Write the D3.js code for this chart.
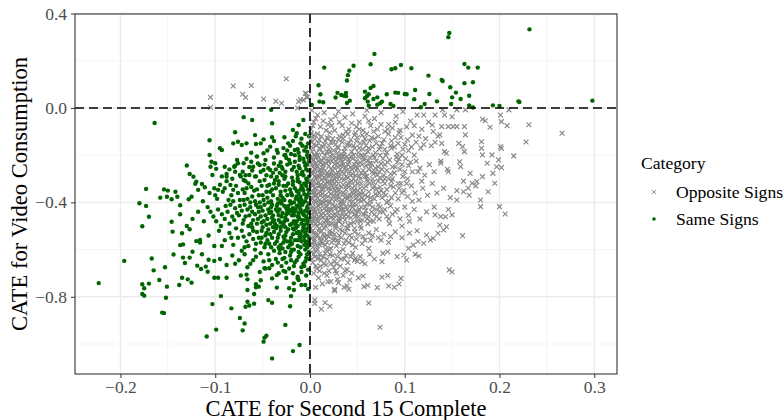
<html>
<head>
<meta charset="utf-8">
<style>
  body { margin: 0; background: #fff; }
  text { font-family: "Liberation Serif", "DejaVu Serif", serif; }
  .domain { display: none; }
</style>
</head>
<body>
<script src="https://cdn.jsdelivr.net/npm/d3@7"></script>
<script>
// axis ticks and legend
var xTicks = [-0.2, -0.1, 0.0, 0.1, 0.2, 0.3];
var yTicks = [0.4, 0.0, -0.4, -0.8];
var xMinor = [-0.15, -0.05, 0.05, 0.15, 0.25];
var yMinor = [0.2, -0.2, -0.6, -1.0];
var categories = ["Opposite Signs", "Same Signs"];

// Same Signs points, [CATE second 15 complete, CATE video consumption]
var sameSignsUpper = [
  [0.2316,0.333],[0.147,0.318],[0.146,0.300],[0.068,0.229],[0.015,0.171],[0.046,0.179],
  [0.0415,0.158],[0.040,0.139],[0.039,0.116],[0.064,0.185],[0.086,0.164],[0.090,0.168],
  [0.096,0.182],[0.107,0.168],[0.125,0.137],[0.139,0.119],[0.140,0.114],[0.163,0.186],
  [0.167,0.171],[0.177,0.171],[0.163,0.105],[0.172,0.109],[0.009,0.096],[0.011,0.058],
  [0.010,0.027],[0.014,0.024],[0.002,0.013],[0.027,0.044],[0.029,0.064],[0.033,0.055],
  [0.036,0.052],[0.038,0.064],[0.038,0.050],[0.039,0.021],[0.042,0.031],[0.058,0.069],
  [0.058,0.041],[0.060,0.050],[0.062,0.058],[0.061,0.027],[0.062,0.010],[0.064,0.085],
  [0.067,0.093],[0.067,0.038],[0.071,0.045],[0.071,0.014],[0.074,0.020],[0.076,0.027],
  [0.081,0.058],[0.085,0.017],[0.088,0.008],[0.090,0.065],[0.093,0.064],[0.100,0.059],
  [0.102,0.058],[0.111,0.076],[0.110,0.037],[0.117,0.003],[0.121,0.017],[0.126,0.059],
  [0.134,0.028],[0.148,0.088],[0.150,0.045],[0.149,0.017],[0.154,0.065],[0.159,0.038],
  [0.168,0.052],[0.168,0.011],[0.172,0.002],[0.193,0.011],[0.200,0.008],[0.220,0.028],
  [0.221,0.025],[0.298,0.031]
];
var sameSignsOuter = [
  [-0.164,-0.064],[-0.106,-0.137],[-0.130,-0.244],[-0.127,-0.280],[-0.123,-0.291],[-0.120,-0.312],
  [-0.121,-0.321],[-0.114,-0.322],[-0.111,-0.336],[-0.118,-0.347],[-0.125,-0.376],[-0.128,-0.387],
  [-0.137,-0.412],[-0.137,-0.450],[-0.146,-0.482],[-0.145,-0.524],[-0.135,-0.531],[-0.130,-0.500],
  [-0.127,-0.514],[-0.116,-0.559],[-0.173,-0.343],[-0.154,-0.345],[-0.150,-0.350],[-0.142,-0.355],
  [-0.140,-0.376],[-0.146,-0.387],[-0.158,-0.380],[-0.151,-0.376],[-0.180,-0.404],[-0.173,-0.415],
  [-0.170,-0.461],[-0.177,-0.501],[-0.106,-0.199],[-0.105,-0.249],[-0.104,-0.228],[-0.100,-0.234],
  [-0.099,-0.258],[-0.103,-0.284],[-0.101,-0.340],[-0.097,-0.347],[-0.090,-0.249],[-0.088,-0.291],
  [-0.080,-0.249],[-0.079,-0.270],[-0.076,-0.234],[-0.074,-0.284],[-0.070,-0.234],[-0.062,-0.228],
  [-0.060,-0.249],[-0.064,-0.284],[-0.081,-0.347],[-0.084,-0.326],[-0.070,-0.305],[-0.067,-0.340],
  [-0.095,-0.171],[-0.093,-0.178],[-0.079,-0.103],[-0.081,-0.150],[-0.076,-0.143],[-0.072,-0.157],
  [-0.067,-0.150],[-0.057,-0.153],[-0.061,-0.051],[-0.070,-0.039],[-0.049,-0.133],[-0.040,-0.124],
  [-0.040,-0.065],[-0.041,-0.008],[-0.027,-0.124],[-0.018,-0.093],[-0.012,-0.072],[-0.014,-0.107],
  [-0.007,-0.051],[-0.023,-0.150],[-0.016,-0.178],[-0.010,-0.150],[-0.042,-0.164],[-0.049,-0.192],
  [-0.035,-0.178],[-0.026,-0.199],[-0.030,-0.249],[-0.042,-0.263],[-0.021,-0.234],[-0.011,-0.206],
  [-0.003,-0.185],[-0.056,-0.206],[-0.053,-0.242],[-0.049,-0.263],
  [-0.223,-0.742],[-0.196,-0.648],[-0.167,-0.638],[-0.165,-0.688],[-0.153,-0.675],[-0.159,-0.729],
  [-0.170,-0.744],[-0.177,-0.747],[-0.175,-0.764],[-0.177,-0.788],[-0.175,-0.795],[-0.151,-0.757],
  [-0.152,-0.804],[-0.156,-0.867],[-0.154,-0.869],[-0.144,-0.621],[-0.137,-0.581],[-0.132,-0.657],
  [-0.134,-0.634],[-0.129,-0.726],[-0.125,-0.740],[-0.138,-0.750],[-0.135,-0.719],[-0.134,-0.578],
  [-0.127,-0.634],[-0.124,-0.609],[-0.120,-0.564],[-0.114,-0.620],[-0.119,-0.668],[-0.110,-0.672],
  [-0.115,-0.682],[-0.108,-0.694],[-0.101,-0.648],[-0.107,-0.643],[-0.103,-0.831],[-0.094,-0.797],
  [-0.099,-0.939],[-0.109,-0.968],[-0.083,-0.849],[-0.074,-0.890],[-0.071,-0.942],[-0.069,-0.913],
  [-0.066,-0.821],[-0.068,-0.842],[-0.064,-0.837],[-0.059,-0.829],[-0.066,-0.771],[-0.059,-0.788],
  [-0.057,-0.760],[-0.054,-0.757],[-0.044,-0.814],[-0.040,-0.825],[-0.048,-0.973],[-0.046,-0.965],
  [-0.049,-0.990],[-0.040,-1.061],[-0.026,-0.919],[-0.021,-0.840],[-0.018,-1.030],[-0.011,-1.004],
  [-0.020,-0.797],[-0.017,-0.771],[-0.013,-0.722],[-0.009,-0.750],[-0.005,-0.750],[-0.002,-0.767],
  [-0.097,-0.719],[-0.101,-0.719],[-0.088,-0.719],[-0.073,-0.710],[-0.066,-0.726],[-0.067,-0.706],
  [-0.057,-0.747],[-0.052,-0.730],[-0.035,-0.761],[-0.022,-0.764],[-0.017,-0.743],[-0.012,-0.729],
  [-0.040,-0.722],[-0.026,-0.694],[-0.035,-0.708],[-0.043,-0.679],[-0.048,-0.679]
];
var sameSignsCore = [
  [-0.005,-0.11],[-0.009,-0.13],[-0.002,-0.15],[-0.015,-0.12],[-0.021,-0.16],[-0.006,-0.18],[-0.012,-0.19],
  [-0.003,-0.2],[-0.028,-0.17],[-0.034,-0.19],[-0.045,-0.18],[-0.052,-0.15],[-0.062,-0.19],[-0.018,-0.14],
  [-0.001,-0.12],[-0.008,-0.16],[-0.038,-0.14],[-0.058,-0.115],[-0.027,-0.2],
  [-0.002,-0.21],[-0.006,-0.23],[-0.011,-0.22],[-0.017,-0.25],[-0.004,-0.26],[-0.009,-0.28],[-0.014,-0.27],
  [-0.022,-0.22],[-0.026,-0.27],[-0.031,-0.23],[-0.036,-0.26],[-0.041,-0.29],[-0.047,-0.22],[-0.052,-0.27],
  [-0.058,-0.29],[-0.064,-0.25],[-0.071,-0.27],[-0.077,-0.22],[-0.085,-0.26],[-0.093,-0.29],[-0.001,-0.29],
  [-0.019,-0.295],[-0.029,-0.285],[-0.038,-0.21],[-0.044,-0.255],[-0.055,-0.235],[-0.067,-0.215],[-0.073,-0.29],
  [-0.082,-0.3],[-0.003,-0.24],[-0.012,-0.245],[-0.024,-0.24],
  [-0.001,-0.31],[-0.004,-0.33],[-0.007,-0.35],[-0.003,-0.37],[-0.009,-0.39],[-0.013,-0.31],[-0.016,-0.34],
  [-0.019,-0.37],[-0.012,-0.36],[-0.023,-0.32],[-0.026,-0.35],[-0.029,-0.38],[-0.021,-0.395],[-0.033,-0.31],
  [-0.036,-0.34],[-0.039,-0.37],[-0.043,-0.325],[-0.046,-0.355],[-0.049,-0.39],[-0.053,-0.31],[-0.056,-0.345],
  [-0.061,-0.375],[-0.065,-0.32],[-0.069,-0.36],[-0.074,-0.39],[-0.078,-0.33],[-0.083,-0.37],[-0.088,-0.31],
  [-0.092,-0.355],[-0.098,-0.385],[-0.106,-0.36],[-0.113,-0.395],[-0.006,-0.32],[-0.002,-0.345],[-0.01,-0.375],
  [-0.005,-0.395],[-0.015,-0.385],[-0.031,-0.355],[-0.041,-0.395],[-0.058,-0.395],[-0.071,-0.345],[-0.086,-0.39],
  [-0.018,-0.325],[-0.027,-0.3],[-0.048,-0.305],[-0.062,-0.335],[-0.095,-0.325],
  [-0.001,-0.405],[-0.003,-0.42],[-0.002,-0.44],[-0.004,-0.46],[-0.001,-0.48],[-0.006,-0.495],[-0.008,-0.41],
  [-0.01,-0.43],[-0.007,-0.45],[-0.011,-0.47],[-0.009,-0.49],[-0.014,-0.415],[-0.016,-0.44],[-0.013,-0.46],
  [-0.017,-0.48],[-0.02,-0.405],[-0.022,-0.43],[-0.019,-0.455],[-0.024,-0.475],[-0.021,-0.495],[-0.027,-0.415],
  [-0.029,-0.445],[-0.026,-0.465],[-0.031,-0.485],[-0.034,-0.405],[-0.036,-0.43],[-0.033,-0.455],[-0.038,-0.475],
  [-0.035,-0.5],[-0.041,-0.42],[-0.043,-0.445],[-0.045,-0.47],[-0.042,-0.49],[-0.048,-0.41],[-0.05,-0.435],
  [-0.052,-0.46],[-0.049,-0.48],[-0.055,-0.42],[-0.058,-0.45],[-0.06,-0.475],[-0.063,-0.4],[-0.066,-0.43],
  [-0.068,-0.46],[-0.071,-0.49],[-0.074,-0.415],[-0.077,-0.445],[-0.08,-0.475],[-0.084,-0.41],[-0.087,-0.44],
  [-0.09,-0.47],[-0.094,-0.5],[-0.097,-0.43],[-0.102,-0.46],[-0.108,-0.42],[-0.112,-0.48],[-0.118,-0.44],
  [-0.124,-0.47],[-0.005,-0.435],[-0.012,-0.445],[-0.018,-0.425],[-0.025,-0.45],[-0.032,-0.43],[-0.039,-0.455],
  [-0.046,-0.495],[-0.056,-0.49],[-0.064,-0.455],[-0.072,-0.435],[-0.085,-0.49],[-0.002,-0.47],[-0.015,-0.495],
  [-0.028,-0.495],[-0.053,-0.4],
  [-0.002,-0.51],[-0.005,-0.53],[-0.001,-0.55],[-0.004,-0.57],[-0.003,-0.59],[-0.008,-0.52],[-0.011,-0.545],
  [-0.009,-0.565],[-0.013,-0.585],[-0.015,-0.51],[-0.018,-0.535],[-0.016,-0.56],[-0.021,-0.58],[-0.023,-0.515],
  [-0.026,-0.54],[-0.024,-0.565],[-0.029,-0.595],[-0.031,-0.52],[-0.034,-0.55],[-0.037,-0.575],[-0.039,-0.505],
  [-0.042,-0.535],[-0.045,-0.56],[-0.048,-0.59],[-0.051,-0.52],[-0.054,-0.55],[-0.057,-0.575],[-0.061,-0.505],
  [-0.064,-0.535],[-0.067,-0.565],[-0.072,-0.52],[-0.076,-0.55],[-0.081,-0.58],[-0.085,-0.53],[-0.09,-0.56],
  [-0.096,-0.52],[-0.101,-0.585],[-0.107,-0.54],[-0.116,-0.57],[-0.006,-0.58],[-0.019,-0.6],[-0.033,-0.59],
  [-0.044,-0.515],[-0.058,-0.6],[-0.069,-0.59],[-0.012,-0.525],[-0.028,-0.57],
  [-0.001,-0.61],[-0.004,-0.635],[-0.007,-0.66],[-0.002,-0.685],[-0.01,-0.62],[-0.014,-0.645],[-0.017,-0.67],
  [-0.021,-0.625],[-0.025,-0.655],[-0.028,-0.69],[-0.032,-0.615],[-0.036,-0.64],[-0.04,-0.665],[-0.044,-0.62],
  [-0.049,-0.65],[-0.053,-0.695],[-0.057,-0.63],[-0.063,-0.66],[-0.069,-0.62],[-0.075,-0.645],[-0.082,-0.625],
  [-0.088,-0.665],[-0.095,-0.64],[-0.018,-0.7],[-0.009,-0.695],[-0.03,-0.67]
];
var sameSignsDense = [
  [-0.004,-0.165],[-0.013,-0.175],[-0.02,-0.195],[-0.007,-0.215],[-0.016,-0.228],[-0.025,-0.212],[-0.033,-0.245],
  [-0.008,-0.27],[-0.019,-0.262],[-0.029,-0.258],[-0.039,-0.275],[-0.048,-0.24],[-0.061,-0.265],[-0.068,-0.285],
  [-0.035,-0.292],[-0.046,-0.285],[-0.013,-0.3],[-0.004,-0.3],[-0.056,-0.205],[-0.079,-0.245],[-0.088,-0.28],
  [-0.003,-0.315],[-0.009,-0.33],[-0.014,-0.352],[-0.006,-0.365],[-0.012,-0.39],[-0.021,-0.345],[-0.024,-0.37],
  [-0.028,-0.33],[-0.034,-0.385],[-0.038,-0.32],[-0.042,-0.355],[-0.051,-0.33],[-0.054,-0.37],[-0.059,-0.35],
  [-0.066,-0.385],[-0.076,-0.36],[-0.081,-0.395],[-0.09,-0.34],[-0.1,-0.37],[-0.011,-0.315],[-0.031,-0.395],
  [-0.045,-0.38],
  [-0.002,-0.415],[-0.004,-0.435],[-0.006,-0.455],[-0.003,-0.49],[-0.008,-0.475],[-0.011,-0.405],[-0.012,-0.46],
  [-0.015,-0.43],[-0.014,-0.48],[-0.017,-0.455],[-0.019,-0.49],[-0.023,-0.415],[-0.023,-0.445],[-0.027,-0.48],
  [-0.03,-0.405],[-0.03,-0.46],[-0.034,-0.44],[-0.037,-0.49],[-0.04,-0.41],[-0.04,-0.465],[-0.044,-0.43],
  [-0.047,-0.455],[-0.051,-0.485],[-0.054,-0.44],[-0.057,-0.41],[-0.061,-0.44],[-0.062,-0.49],[-0.069,-0.41],
  [-0.07,-0.475],[-0.075,-0.455],[-0.079,-0.425],[-0.082,-0.46],[-0.089,-0.415],[-0.093,-0.45],[-0.099,-0.48],
  [-0.105,-0.44],[-0.001,-0.445],[-0.009,-0.44],[-0.025,-0.425],
  [-0.001,-0.52],[-0.003,-0.54],[-0.006,-0.56],[-0.002,-0.58],[-0.007,-0.505],[-0.01,-0.535],[-0.013,-0.56],
  [-0.014,-0.53],[-0.017,-0.515],[-0.02,-0.55],[-0.019,-0.575],[-0.025,-0.525],[-0.027,-0.555],[-0.031,-0.58],
  [-0.033,-0.535],[-0.036,-0.51],[-0.04,-0.55],[-0.043,-0.575],[-0.047,-0.54],[-0.05,-0.505],[-0.052,-0.57],
  [-0.056,-0.525],[-0.06,-0.555],[-0.065,-0.585],[-0.07,-0.545],[-0.078,-0.51],[-0.083,-0.55],[-0.093,-0.585],
  [-0.01,-0.59],[-0.023,-0.59],
  [-0.003,-0.62],[-0.005,-0.65],[-0.012,-0.63],[-0.009,-0.675],[-0.016,-0.655],[-0.02,-0.61],[-0.022,-0.68],
  [-0.027,-0.635],[-0.034,-0.655],[-0.038,-0.605],[-0.043,-0.645],[-0.047,-0.68],[-0.052,-0.615],[-0.06,-0.645],
  [-0.066,-0.675],[-0.072,-0.605],[-0.079,-0.66],[-0.004,-0.71],[-0.013,-0.715],[-0.025,-0.72],[-0.033,-0.7]
];
var sameSignsEdge = [
  [-0.001,-0.225],[-0.005,-0.245],[-0.002,-0.265],[-0.007,-0.285],[-0.003,-0.305],[-0.008,-0.34],[-0.001,-0.36],
  [-0.004,-0.38],[-0.007,-0.4],[-0.002,-0.425],[-0.005,-0.475],[-0.001,-0.5],[-0.004,-0.515],[-0.006,-0.545],
  [-0.002,-0.565],[-0.005,-0.6],[-0.001,-0.64],[-0.006,-0.67],[-0.011,-0.255],[-0.013,-0.285],[-0.01,-0.345],
  [-0.014,-0.375],[-0.011,-0.42],[-0.013,-0.5],[-0.01,-0.55],[-0.012,-0.61],[-0.016,-0.2],[-0.018,-0.31],
  [-0.02,-0.36],[-0.017,-0.4],[-0.019,-0.44],[-0.018,-0.51],[-0.021,-0.565],[-0.017,-0.6],[-0.02,-0.645],
  [-0.024,-0.18],[-0.026,-0.29],[-0.025,-0.33],[-0.027,-0.39],[-0.024,-0.435],[-0.026,-0.505],[-0.028,-0.545],
  [-0.026,-0.61],[-0.029,-0.64],[-0.032,-0.275],[-0.033,-0.325],[-0.031,-0.37],[-0.035,-0.415],[-0.033,-0.475],
  [-0.031,-0.505],[-0.035,-0.565],[-0.032,-0.6],[-0.038,-0.235],[-0.037,-0.305],[-0.04,-0.345],[-0.041,-0.44],
  [-0.039,-0.48],[-0.038,-0.525],[-0.041,-0.59],[-0.045,-0.33],[-0.044,-0.4],[-0.046,-0.53],[-0.047,-0.575],
  [-0.05,-0.37],[-0.052,-0.42],[-0.051,-0.55],[-0.055,-0.47],[-0.057,-0.29],[-0.06,-0.52],[-0.063,-0.42],
  [-0.065,-0.5],[-0.068,-0.31],[-0.07,-0.39]
];

// Opposite Signs points
var oppositeOuter = [
  [-0.105,0.045],[-0.105,0.003],[-0.081,0.093],[-0.071,0.058],[-0.068,0.044],[-0.062,0.095],[-0.049,0.038],
  [-0.036,0.028],[-0.030,0.020],[-0.025,0.124],[-0.012,0.027],[-0.010,0.035],[-0.004,0.061],[-0.003,0.047],
  [-0.013,0.000],[-0.005,0.062],[-0.003,0.044],[-0.007,0.034],
  [0.266,-0.107],[0.231,-0.071],[0.228,-0.144],[0.215,-0.203],[0.210,-0.008],[0.201,-0.030],[0.202,-0.058],
  [0.208,-0.075],[0.185,-0.054],[0.190,-0.082],[0.182,-0.048],[0.181,-0.143],[0.181,-0.171],[0.182,-0.199],
  [0.192,-0.199],[0.201,-0.164],[0.202,-0.171],[0.199,-0.220],[0.197,-0.249],[0.202,-0.253],[0.193,-0.277],
  [0.195,-0.319],[0.188,-0.355],[0.180,-0.390],[0.180,-0.418],[0.200,-0.418],[0.187,-0.234],[0.182,-0.291],
  [0.176,-0.312],[0.171,-0.319],[0.167,-0.340],[0.162,-0.355],[0.155,-0.390],[0.169,-0.277],[0.163,-0.185],
  [0.161,-0.164],[0.157,-0.150],[0.164,-0.114],[0.163,-0.079],[0.155,-0.079],[0.151,-0.079],[0.144,-0.192],
  [0.138,-0.234],[0.146,-0.270],[0.158,-0.228],[0.159,-0.249],[0.146,-0.079],[0.139,-0.079],[0.137,-0.114],
  [0.139,-0.150],[0.130,-0.100],[0.129,-0.072],[0.120,-0.030],[0.132,-0.030],[0.142,-0.030],[0.150,-0.037],
  [0.140,-0.008],[0.155,-0.008],[0.164,-0.008],
  [0.206,-0.449],[0.161,-0.541],[0.147,-0.686],[0.150,-0.695],[0.074,-0.929],[0.062,-0.826],[0.005,-0.814],
  [0.005,-0.828],[0.012,-0.853],[0.016,-0.825],[0.021,-0.840],[0.026,-0.768],[0.026,-0.774],[0.036,-0.760],
  [0.041,-0.768],[0.057,-0.757],[0.061,-0.751],[0.071,-0.761],[0.083,-0.754],[0.076,-0.717],[0.082,-0.710],
  [0.089,-0.760],[0.094,-0.746],[0.096,-0.722],[0.051,-0.720],[0.056,-0.712],[0.029,-0.726],[0.019,-0.736],
  [0.039,-0.753],[0.042,-0.729],[0.055,-0.651],[0.048,-0.637],[0.076,-0.651],[0.077,-0.616],[0.082,-0.609],
  [0.092,-0.630],[0.099,-0.623],[0.102,-0.644],[0.111,-0.620],[0.115,-0.627],[0.104,-0.595],[0.109,-0.581],
  [0.114,-0.566],[0.120,-0.573],[0.127,-0.559],[0.135,-0.531],[0.141,-0.517],[0.144,-0.503],[0.137,-0.496],
  [0.132,-0.453],[0.143,-0.461],[0.150,-0.453],[0.123,-0.538],[0.130,-0.552]
];
var oppositeCore = [
  [0.002,-0.01],[0.008,-0.03],[0.015,-0.02],[0.022,-0.05],[0.03,-0.015],[0.037,-0.04],[0.045,-0.025],[0.052,-0.06],
  [0.06,-0.01],[0.068,-0.045],[0.075,-0.02],[0.083,-0.07],[0.091,-0.035],[0.098,-0.015],[0.106,-0.055],[0.113,-0.03],
  [0.004,-0.06],[0.011,-0.08],[0.019,-0.07],[0.026,-0.095],[0.034,-0.075],[0.041,-0.09],[0.049,-0.08],[0.056,-0.095],
  [0.064,-0.075],[0.071,-0.09],[0.079,-0.1],[0.087,-0.085],[0.095,-0.095],[0.102,-0.08],[0.118,-0.09],[0.125,-0.06],
  [0.001,-0.09],[0.006,-0.045],[0.027,-0.035],[0.058,-0.035],
  [0.001,-0.11],[0.005,-0.13],[0.009,-0.15],[0.003,-0.17],[0.007,-0.19],[0.012,-0.12],[0.016,-0.14],[0.014,-0.165],
  [0.018,-0.185],[0.021,-0.105],[0.024,-0.13],[0.027,-0.155],[0.025,-0.18],[0.031,-0.12],[0.034,-0.145],[0.037,-0.17],
  [0.033,-0.195],[0.04,-0.11],[0.043,-0.135],[0.046,-0.16],[0.044,-0.185],[0.05,-0.125],[0.053,-0.15],[0.056,-0.175],
  [0.055,-0.2],[0.06,-0.11],[0.063,-0.14],[0.066,-0.165],[0.069,-0.19],[0.072,-0.12],[0.076,-0.15],[0.079,-0.175],
  [0.083,-0.11],[0.086,-0.14],[0.089,-0.165],[0.092,-0.195],[0.096,-0.125],[0.1,-0.155],[0.104,-0.18],[0.108,-0.115],
  [0.112,-0.145],[0.117,-0.17],[0.122,-0.13],[0.128,-0.16],[0.135,-0.12],[0.142,-0.185],[0.002,-0.145],[0.011,-0.175],
  [0.02,-0.16],[0.029,-0.19],[0.039,-0.155],[0.048,-0.105],[0.058,-0.13],[0.074,-0.2],[0.094,-0.105],[0.008,-0.2],
  [0.001,-0.205],[0.004,-0.22],[0.002,-0.24],[0.005,-0.26],[0.003,-0.28],[0.007,-0.295],[0.009,-0.21],[0.011,-0.23],
  [0.008,-0.25],[0.012,-0.27],[0.01,-0.29],[0.015,-0.215],[0.017,-0.235],[0.014,-0.255],[0.018,-0.275],[0.016,-0.3],
  [0.021,-0.205],[0.023,-0.225],[0.02,-0.245],[0.024,-0.265],[0.022,-0.285],[0.027,-0.21],[0.029,-0.235],[0.026,-0.255],
  [0.03,-0.275],[0.028,-0.295],[0.033,-0.22],[0.035,-0.24],[0.032,-0.26],[0.036,-0.28],[0.039,-0.205],[0.041,-0.23],
  [0.038,-0.25],[0.042,-0.27],[0.04,-0.295],[0.045,-0.215],[0.047,-0.24],[0.044,-0.26],[0.048,-0.285],[0.051,-0.205],
  [0.053,-0.23],[0.05,-0.255],[0.054,-0.275],[0.057,-0.22],[0.059,-0.245],[0.056,-0.265],[0.06,-0.29],[0.063,-0.21],
  [0.065,-0.235],[0.062,-0.26],[0.067,-0.28],[0.07,-0.225],[0.072,-0.25],[0.069,-0.27],[0.074,-0.295],[0.077,-0.215],
  [0.079,-0.24],[0.081,-0.265],[0.078,-0.285],[0.084,-0.22],[0.087,-0.25],[0.089,-0.275],[0.092,-0.23],[0.095,-0.26],
  [0.098,-0.29],[0.101,-0.215],[0.104,-0.245],[0.108,-0.27],[0.112,-0.225],[0.116,-0.255],[0.121,-0.285],[0.126,-0.24],
  [0.131,-0.27],[0.138,-0.225],[0.145,-0.26],[0.006,-0.235],[0.013,-0.285],[0.025,-0.3],[0.034,-0.205],[0.046,-0.3],
  [0.058,-0.2],[0.066,-0.3],[0.083,-0.3],[0.097,-0.2],
  [0.001,-0.31],[0.003,-0.33],[0.002,-0.35],[0.004,-0.37],[0.001,-0.39],[0.007,-0.32],[0.006,-0.34],[0.009,-0.36],
  [0.008,-0.38],[0.006,-0.4],[0.012,-0.305],[0.011,-0.325],[0.014,-0.345],[0.013,-0.365],[0.015,-0.385],[0.018,-0.315],
  [0.017,-0.335],[0.02,-0.355],[0.019,-0.375],[0.021,-0.395],[0.024,-0.31],[0.023,-0.33],[0.026,-0.35],[0.025,-0.37],
  [0.027,-0.39],[0.03,-0.32],[0.029,-0.34],[0.032,-0.36],[0.031,-0.38],[0.033,-0.4],[0.036,-0.305],[0.035,-0.325],
  [0.038,-0.345],[0.037,-0.365],[0.039,-0.385],[0.042,-0.315],[0.041,-0.335],[0.044,-0.355],[0.043,-0.375],[0.045,-0.395],
  [0.048,-0.31],[0.047,-0.33],[0.05,-0.35],[0.049,-0.37],[0.051,-0.39],[0.054,-0.32],[0.053,-0.34],[0.056,-0.36],
  [0.055,-0.38],[0.06,-0.305],[0.059,-0.33],[0.062,-0.355],[0.061,-0.375],[0.064,-0.395],[0.067,-0.315],[0.066,-0.34],
  [0.069,-0.365],[0.068,-0.385],[0.072,-0.31],[0.074,-0.335],[0.073,-0.36],[0.076,-0.38],[0.079,-0.32],[0.081,-0.345],
  [0.08,-0.37],[0.083,-0.395],[0.086,-0.31],[0.088,-0.335],[0.09,-0.36],[0.093,-0.385],[0.096,-0.32],[0.099,-0.35],
  [0.103,-0.375],[0.107,-0.33],[0.111,-0.36],[0.115,-0.39],[0.119,-0.34],[0.124,-0.37],[0.129,-0.32],[0.134,-0.36],
  [0.141,-0.34],[0.148,-0.38],[0.155,-0.35],[0.162,-0.31],[0.168,-0.37],[0.175,-0.33],
  [0.001,-0.41],[0.003,-0.43],[0.002,-0.45],[0.004,-0.47],[0.002,-0.49],[0.007,-0.42],[0.006,-0.44],[0.009,-0.46],
  [0.008,-0.48],[0.007,-0.5],[0.012,-0.405],[0.011,-0.425],[0.014,-0.445],[0.013,-0.465],[0.015,-0.485],[0.018,-0.415],
  [0.017,-0.435],[0.02,-0.455],[0.019,-0.475],[0.021,-0.495],[0.024,-0.41],[0.023,-0.43],[0.026,-0.45],[0.025,-0.47],
  [0.027,-0.49],[0.03,-0.42],[0.029,-0.44],[0.032,-0.46],[0.031,-0.48],[0.036,-0.405],[0.035,-0.43],[0.038,-0.45],
  [0.037,-0.475],[0.04,-0.495],[0.042,-0.415],[0.044,-0.44],[0.043,-0.465],[0.046,-0.485],[0.049,-0.41],[0.048,-0.435],
  [0.051,-0.46],[0.05,-0.48],[0.054,-0.42],[0.056,-0.45],[0.055,-0.475],[0.06,-0.405],[0.059,-0.435],[0.062,-0.46],
  [0.061,-0.49],[0.066,-0.42],[0.068,-0.45],[0.067,-0.48],[0.072,-0.41],[0.074,-0.44],[0.073,-0.47],[0.079,-0.43],
  [0.081,-0.46],[0.085,-0.415],[0.087,-0.45],[0.092,-0.43],[0.095,-0.47],[0.1,-0.42],[0.104,-0.455],[0.11,-0.43],
  [0.116,-0.47],[0.123,-0.44],[0.131,-0.42],[0.138,-0.46],[0.146,-0.43],[0.084,-0.49],[0.097,-0.5],
  [0.001,-0.51],[0.004,-0.53],[0.002,-0.55],[0.005,-0.57],[0.003,-0.59],[0.009,-0.52],[0.008,-0.54],[0.011,-0.56],
  [0.01,-0.58],[0.015,-0.51],[0.014,-0.535],[0.017,-0.555],[0.016,-0.58],[0.021,-0.52],[0.02,-0.545],[0.023,-0.57],
  [0.022,-0.595],[0.027,-0.51],[0.026,-0.535],[0.029,-0.56],[0.028,-0.585],[0.034,-0.52],[0.033,-0.55],[0.036,-0.575],
  [0.04,-0.51],[0.042,-0.54],[0.041,-0.57],[0.047,-0.525],[0.049,-0.555],[0.048,-0.59],[0.054,-0.51],[0.056,-0.545],
  [0.055,-0.575],[0.062,-0.53],[0.064,-0.56],[0.07,-0.515],[0.072,-0.55],[0.078,-0.535],[0.083,-0.57],[0.09,-0.525],
  [0.097,-0.55],[0.105,-0.53],[0.113,-0.52],[0.062,-0.595],[0.035,-0.6],[0.008,-0.6],
  [0.002,-0.61],[0.005,-0.63],[0.003,-0.655],[0.007,-0.68],[0.004,-0.7],[0.01,-0.62],[0.012,-0.645],[0.011,-0.67],
  [0.016,-0.615],[0.018,-0.64],[0.017,-0.665],[0.02,-0.69],[0.024,-0.625],[0.026,-0.65],[0.025,-0.675],[0.031,-0.61],
  [0.033,-0.64],[0.032,-0.67],[0.038,-0.625],[0.04,-0.655],[0.039,-0.685],[0.045,-0.615],[0.047,-0.645],[0.053,-0.63],
  [0.058,-0.66],[0.063,-0.62],[0.068,-0.64],[0.015,-0.7],[0.028,-0.7],[0.009,-0.72],[0.022,-0.735],[0.035,-0.71],
  [0.044,-0.7],[0.013,-0.745],[0.006,-0.76],[0.03,-0.74]
];
var oppositeDense = [
  [0.003,-0.075],[0.014,-0.055],[0.017,-0.095],[0.023,-0.075],[0.031,-0.06],[0.038,-0.1],[0.044,-0.065],[0.052,-0.09],
  [0.062,-0.055],[0.067,-0.1],[0.075,-0.07],[0.082,-0.09],[0.09,-0.06],[0.11,-0.075],[0.004,-0.115],[0.007,-0.16],
  [0.01,-0.135],[0.013,-0.19],[0.018,-0.125],[0.02,-0.175],[0.022,-0.145],[0.029,-0.165],[0.03,-0.135],[0.035,-0.115],
  [0.036,-0.185],[0.041,-0.15],[0.047,-0.17],[0.049,-0.14],[0.051,-0.19],[0.055,-0.115],[0.059,-0.16],[0.061,-0.185],
  [0.065,-0.125],[0.07,-0.15],[0.073,-0.175],[0.078,-0.135],[0.081,-0.19],[0.085,-0.16],[0.09,-0.125],[0.093,-0.15],
  [0.098,-0.175],[0.103,-0.135],[0.107,-0.165],[0.115,-0.12],[0.12,-0.155],[0.132,-0.145],
  [0.002,-0.215],[0.003,-0.25],[0.002,-0.27],[0.005,-0.29],[0.006,-0.21],[0.007,-0.245],[0.009,-0.265],[0.008,-0.285],
  [0.012,-0.22],[0.013,-0.24],[0.011,-0.26],[0.015,-0.295],[0.019,-0.225],[0.016,-0.265],[0.02,-0.29],[0.025,-0.215],
  [0.026,-0.24],[0.022,-0.275],[0.027,-0.28],[0.031,-0.205],[0.03,-0.25],[0.031,-0.29],[0.034,-0.23],[0.034,-0.27],
  [0.037,-0.215],[0.038,-0.265],[0.04,-0.24],[0.043,-0.205],[0.043,-0.25],[0.045,-0.28],[0.049,-0.225],[0.049,-0.265],
  [0.052,-0.29],[0.055,-0.24],[0.058,-0.275],[0.061,-0.225],[0.064,-0.25],[0.066,-0.27],[0.068,-0.21],[0.071,-0.285],
  [0.075,-0.235],[0.076,-0.26],[0.082,-0.23],[0.085,-0.28],[0.09,-0.25],[0.094,-0.215],[0.1,-0.27],[0.106,-0.23],
  [0.114,-0.27],[0.002,-0.32],[0.005,-0.34],[0.004,-0.31],[0.01,-0.33],[0.012,-0.345],[0.016,-0.32],[0.019,-0.34],
  [0.022,-0.32],[0.027,-0.335],[0.028,-0.31],[0.033,-0.335],[0.04,-0.32],[0.045,-0.34],[0.051,-0.32],[0.057,-0.34],
  [0.063,-0.32],[0.07,-0.345],[0.077,-0.31],[0.085,-0.33],[0.094,-0.34],[0.102,-0.32],
  [0.003,-0.36],[0.002,-0.38],[0.005,-0.395],[0.007,-0.37],[0.01,-0.39],[0.011,-0.355],[0.016,-0.37],[0.017,-0.395],
  [0.022,-0.365],[0.023,-0.385],[0.028,-0.355],[0.029,-0.375],[0.034,-0.39],[0.035,-0.36],[0.04,-0.375],[0.042,-0.395],
  [0.046,-0.365],[0.048,-0.385],[0.053,-0.36],[0.054,-0.395],[0.058,-0.37],[0.064,-0.38],[0.071,-0.37],[0.078,-0.36],
  [0.086,-0.38],[0.097,-0.36],[0.108,-0.395],[0.003,-0.42],[0.004,-0.44],[0.005,-0.46],[0.003,-0.48],[0.009,-0.415],
  [0.01,-0.44],[0.008,-0.47],[0.011,-0.49],[0.015,-0.425],[0.016,-0.455],[0.017,-0.475],[0.02,-0.44],[0.022,-0.465],
  [0.023,-0.49],[0.027,-0.425],[0.028,-0.455],[0.03,-0.48],[0.033,-0.415],[0.034,-0.445],[0.034,-0.495],[0.039,-0.43],
  [0.04,-0.46],[0.045,-0.42],[0.047,-0.45],[0.052,-0.43],[0.053,-0.48],[0.058,-0.42],[0.06,-0.47],[0.065,-0.44],
  [0.07,-0.46],[0.077,-0.44],[0.083,-0.47],[0.09,-0.44],[0.105,-0.48],
  [0.003,-0.52],[0.006,-0.54],[0.004,-0.565],[0.007,-0.585],[0.012,-0.52],[0.011,-0.55],[0.013,-0.575],[0.018,-0.54],
  [0.018,-0.57],[0.024,-0.53],[0.025,-0.56],[0.031,-0.54],[0.03,-0.57],[0.037,-0.53],[0.038,-0.56],[0.044,-0.55],
  [0.045,-0.58],[0.051,-0.535],[0.058,-0.56],[0.066,-0.54],[0.075,-0.56],[0.085,-0.545],[0.004,-0.62],[0.008,-0.64],
  [0.006,-0.67],[0.014,-0.63],[0.015,-0.66],[0.021,-0.62],[0.022,-0.66],[0.029,-0.63],[0.028,-0.66],[0.036,-0.64],
  [0.043,-0.63],[0.05,-0.65],[0.01,-0.69],[0.018,-0.71],[0.027,-0.69],[0.037,-0.69]
];
var oppositeEdge = [
  [0.001,-0.135],[0.004,-0.155],[0.002,-0.185],[0.005,-0.2],[0.001,-0.23],[0.004,-0.27],[0.006,-0.3],[0.001,-0.325],
  [0.005,-0.355],[0.003,-0.385],[0.001,-0.425],[0.005,-0.445],[0.002,-0.465],[0.006,-0.49],[0.002,-0.525],[0.005,-0.555],
  [0.002,-0.575],[0.006,-0.605],[0.002,-0.64],[0.008,-0.11],[0.01,-0.17],[0.009,-0.225],[0.011,-0.28],[0.009,-0.315],
  [0.011,-0.37],[0.01,-0.405],[0.012,-0.455],[0.01,-0.51],[0.012,-0.565],[0.009,-0.635],[0.015,-0.155],[0.016,-0.2],
  [0.014,-0.24],[0.017,-0.285],[0.015,-0.33],[0.014,-0.4],[0.017,-0.42],[0.016,-0.5],[0.015,-0.545],[0.017,-0.6],
  [0.019,-0.13],[0.021,-0.185],[0.02,-0.225],[0.022,-0.26],[0.021,-0.31],[0.022,-0.345],[0.02,-0.4],[0.021,-0.43],
  [0.019,-0.49],[0.021,-0.53],[0.02,-0.6],[0.025,-0.145],[0.024,-0.2],[0.027,-0.225],[0.025,-0.285],[0.026,-0.32],
  [0.028,-0.37],[0.026,-0.415],[0.024,-0.455],[0.027,-0.5],[0.025,-0.55],[0.03,-0.17],[0.031,-0.215],[0.032,-0.245],
  [0.033,-0.3],[0.031,-0.345],[0.032,-0.4],[0.033,-0.43],[0.031,-0.47],[0.032,-0.515],[0.035,-0.13],[0.036,-0.2],
  [0.037,-0.255],[0.038,-0.29],[0.039,-0.33],[0.037,-0.38],[0.038,-0.42],[0.036,-0.46],[0.039,-0.51],[0.042,-0.16],
  [0.041,-0.22],[0.043,-0.285],[0.044,-0.31],[0.042,-0.37],[0.041,-0.44],[0.043,-0.49],[0.047,-0.115],[0.046,-0.2],
  [0.048,-0.25],[0.047,-0.35],[0.046,-0.41],[0.048,-0.46],[0.047,-0.51],[0.052,-0.17],[0.051,-0.24],[0.053,-0.3],
  [0.052,-0.37],[0.051,-0.44],[0.053,-0.5],[0.057,-0.145],[0.056,-0.21],[0.058,-0.29],[0.057,-0.39],[0.058,-0.45],
  [0.062,-0.17],[0.063,-0.235],[0.061,-0.31],[0.063,-0.41],[0.064,-0.48],[0.068,-0.13],[0.067,-0.2],[0.069,-0.255],
  [0.068,-0.33],[0.07,-0.43],[0.074,-0.165],[0.073,-0.27],[0.075,-0.35],[0.074,-0.42],[0.08,-0.2],[0.079,-0.3],
  [0.081,-0.4],[0.086,-0.17],[0.087,-0.3],[0.091,-0.21],[0.093,-0.32],[0.097,-0.24],[0.103,-0.3],[0.11,-0.2],
  [0.118,-0.31]
];

var sameSigns = sameSignsUpper.concat(sameSignsOuter, sameSignsCore, sameSignsDense, sameSignsEdge);
var oppositeSigns = oppositeOuter.concat(oppositeCore, oppositeDense, oppositeEdge);

var width = 783, height = 420;
var panel = {left: 75, right: 617, top: 14, bottom: 374};
var serif = '"Liberation Serif", "DejaVu Serif", serif';

var x = d3.scaleLinear().domain([-0.248, 0.324]).range([panel.left, panel.right]);
var y = d3.scaleLinear().domain([-1.127, 0.398]).range([panel.bottom, panel.top]);
var colour = d3.scaleOrdinal().domain(categories).range(["#888888", "#006400"]);

var svg = d3.select("body").append("svg")
    .attr("width", width)
    .attr("height", height);

svg.append("defs").append("clipPath").attr("id", "clip")
  .append("rect")
    .attr("x", panel.left).attr("y", panel.top)
    .attr("width", panel.right - panel.left)
    .attr("height", panel.bottom - panel.top);

// grid lines
var grid = svg.append("g");
grid.selectAll(".xminor").data(xMinor).enter().append("line")
    .attr("x1", d => x(d)).attr("x2", d => x(d))
    .attr("y1", panel.top).attr("y2", panel.bottom)
    .attr("stroke", "#f0f0f0").attr("stroke-width", 0.7);
grid.selectAll(".yminor").data(yMinor).enter().append("line")
    .attr("y1", d => y(d)).attr("y2", d => y(d))
    .attr("x1", panel.left).attr("x2", panel.right)
    .attr("stroke", "#f0f0f0").attr("stroke-width", 0.7);
grid.selectAll(".xmajor").data(xTicks).enter().append("line")
    .attr("x1", d => x(d)).attr("x2", d => x(d))
    .attr("y1", panel.top).attr("y2", panel.bottom)
    .attr("stroke", "#ebebeb").attr("stroke-width", 1.4);
grid.selectAll(".ymajor").data(yTicks).enter().append("line")
    .attr("y1", d => y(d)).attr("y2", d => y(d))
    .attr("x1", panel.left).attr("x2", panel.right)
    .attr("stroke", "#ebebeb").attr("stroke-width", 1.4);

// points
var plot = svg.append("g").attr("clip-path", "url(#clip)");
var cross = "M-2.4,-2.4L2.4,2.4M-2.4,2.4L2.4,-2.4";

plot.selectAll(".same").data(sameSigns).enter().append("circle")
    .attr("cx", d => x(d[0]))
    .attr("cy", d => y(d[1]))
    .attr("r", 2.2)
    .attr("fill", colour("Same Signs"));

plot.selectAll(".opp").data(oppositeSigns).enter().append("path")
    .attr("d", cross)
    .attr("transform", d => "translate(" + x(d[0]) + "," + y(d[1]) + ")")
    .attr("stroke", colour("Opposite Signs"))
    .attr("stroke-width", 1.15)
    .attr("fill", "none");

// reference lines at zero
plot.append("line")
    .attr("x1", x(0)).attr("x2", x(0))
    .attr("y1", panel.top).attr("y2", panel.bottom)
    .attr("stroke", "#000").attr("stroke-width", 1.6).attr("stroke-dasharray", "9,5");
plot.append("line")
    .attr("y1", y(0)).attr("y2", y(0))
    .attr("x1", panel.left).attr("x2", panel.right)
    .attr("stroke", "#000").attr("stroke-width", 1.6).attr("stroke-dasharray", "9,5");

// panel border
svg.append("rect")
    .attr("x", panel.left).attr("y", panel.top)
    .attr("width", panel.right - panel.left)
    .attr("height", panel.bottom - panel.top)
    .attr("fill", "none").attr("stroke", "#333").attr("stroke-width", 1.1);

// axes
var fmt = d3.format(".1f");
var xAxis = svg.append("g")
    .attr("transform", "translate(0," + panel.bottom + ")")
    .call(d3.axisBottom(x).tickValues(xTicks).tickFormat(fmt).tickSize(4).tickPadding(3));
var yAxis = svg.append("g")
    .attr("transform", "translate(" + panel.left + ",0)")
    .call(d3.axisLeft(y).tickValues(yTicks).tickFormat(fmt).tickSize(4).tickPadding(4));
[xAxis, yAxis].forEach(function(a) {
  a.attr("font-family", null).attr("font-size", null);
  a.selectAll(".tick line").attr("stroke", "#333");
  a.selectAll(".tick text")
    .style("font-family", serif)
    .style("font-size", "17.5px")
    .attr("fill", "#4d4d4d");
});

// axis titles
svg.append("text")
    .attr("x", (panel.left + panel.right) / 2)
    .attr("y", 416)
    .attr("text-anchor", "middle")
    .style("font-family", serif)
    .style("font-size", "22.5px")
    .text("CATE for Second 15 Complete");
svg.append("text")
    .attr("transform", "translate(27," + (panel.top + panel.bottom) / 2 + ") rotate(-90)")
    .attr("text-anchor", "middle")
    .style("font-family", serif)
    .style("font-size", "22.5px")
    .text("CATE for Video Consumption");

// legend
var legend = svg.append("g").attr("transform", "translate(641,0)");
legend.append("text")
    .attr("x", 0).attr("y", 169)
    .style("font-family", serif)
    .style("font-size", "17.6px")
    .text("Category");
var items = legend.selectAll(".item").data(categories).enter().append("g")
    .attr("transform", (d, i) => "translate(0," + (192 + i * 27) + ")");
items.append("text")
    .attr("x", 35).attr("y", 6)
    .style("font-family", serif)
    .style("font-size", "17.6px")
    .text(d => d);
items.filter(d => d === "Opposite Signs").append("path")
    .attr("d", "M-2,-2L2,2M-2,2L2,-2")
    .attr("transform", "translate(13,0)")
    .attr("stroke", colour("Opposite Signs")).attr("stroke-width", 0.9);
items.filter(d => d === "Same Signs").append("circle")
    .attr("cx", 13).attr("cy", 0).attr("r", 1.8)
    .attr("fill", colour("Same Signs"));
</script>
</body>
</html>
